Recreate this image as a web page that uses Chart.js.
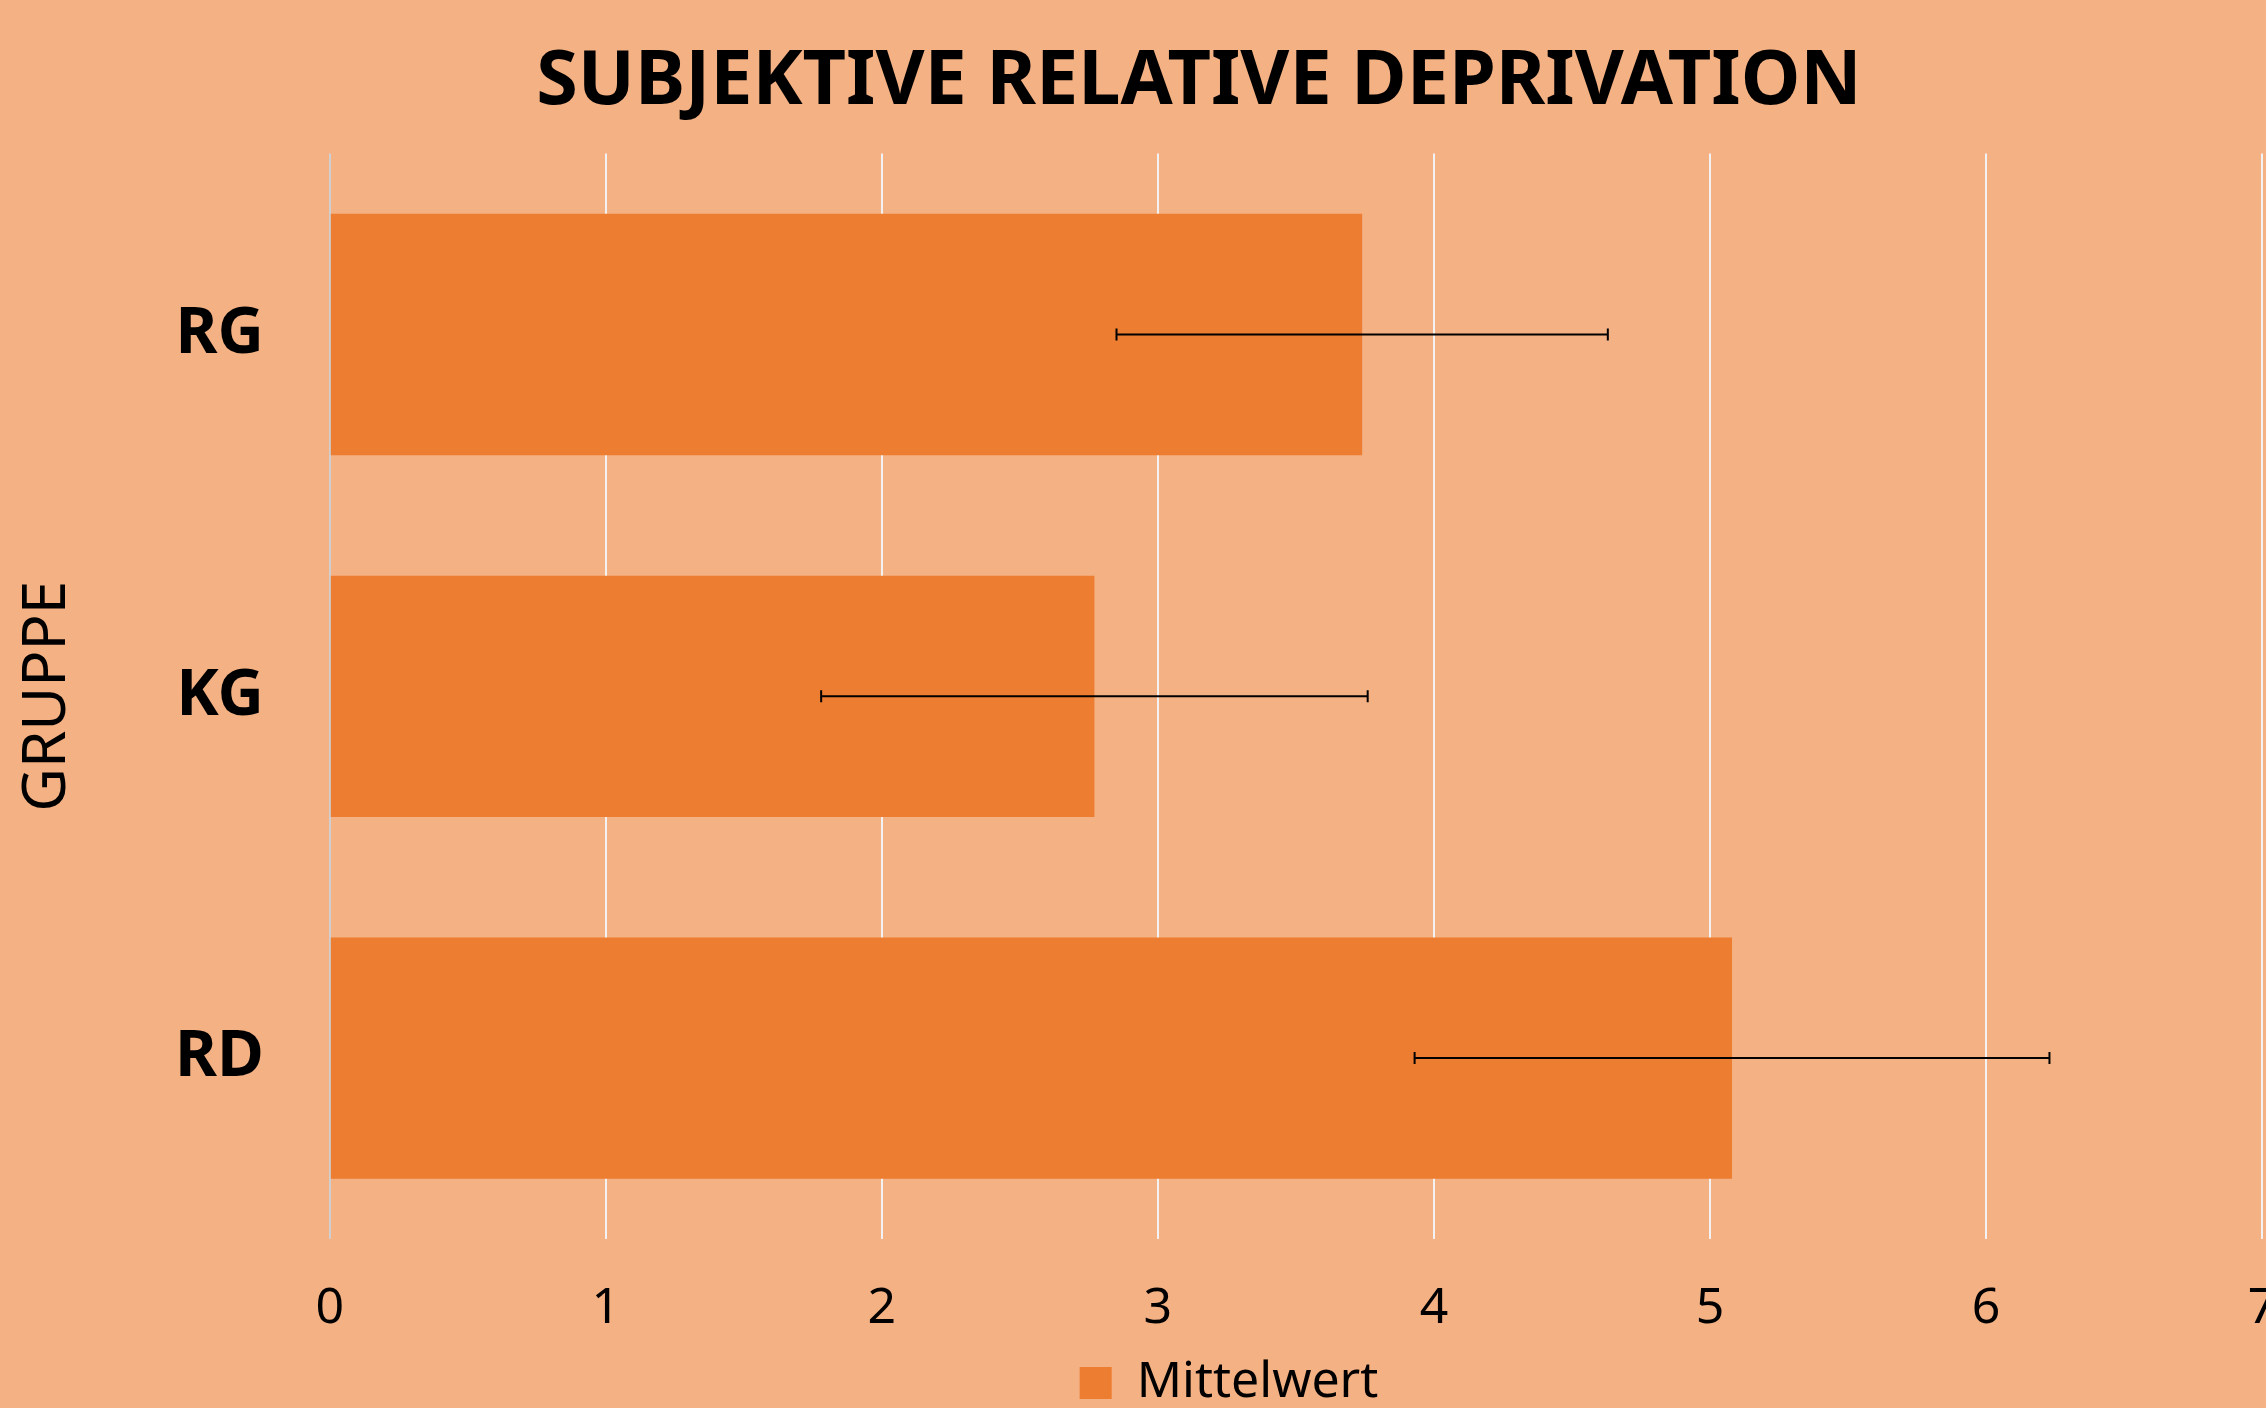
<!DOCTYPE html>
<html><head><meta charset="utf-8">
<script src="https://cdn.jsdelivr.net/npm/chart.js@4"></script>
<style>html,body{margin:0;padding:0;overflow:hidden;background:#F4B183;width:2266px;height:1408px}canvas{display:block}</style>
</head><body>
<canvas id="c" width="2400" height="1418"></canvas>
<script>
const categories = ['RG', 'KG', 'RD'];
const meanValues = [3.74, 2.77, 5.08];
const errorValues = [0.89, 0.99, 1.15];
const xTickValues = [0, 1, 2, 3, 4, 5, 6, 7];
const seriesName = 'Mittelwert';
const chartTitle = 'SUBJEKTIVE RELATIVE DEPRIVATION';
const axisTitle = 'GRUPPE';

const bgPlugin = {
  id: 'bg',
  beforeDraw(chart) {
    const c = chart.ctx;
    c.save();
    c.fillStyle = '#F4B183';
    c.fillRect(0, 0, chart.width, chart.height);
    c.restore();
  }
};

const legendShiftPlugin = {
  id: 'legendShift',
  afterLayout(chart) {
    const l = chart.legend;
    if (l) { l.left += 30; l.right += 30; }
  }
};

const errorBarPlugin = {
  id: 'errorBars',
  afterDatasetsDraw(chart) {
    const c = chart.ctx;
    const xs = chart.scales.x, ys = chart.scales.y;
    c.save();
    c.strokeStyle = '#000';
    c.lineWidth = 2;
    meanValues.forEach((m, i) => {
      const y = ys.getPixelForValue(i);
      const x1 = xs.getPixelForValue(m - errorValues[i]);
      const x2 = xs.getPixelForValue(m + errorValues[i]);
      c.beginPath();
      c.moveTo(x1, y); c.lineTo(x2, y);
      c.moveTo(x1, y - 6); c.lineTo(x1, y + 6);
      c.moveTo(x2, y - 6); c.lineTo(x2, y + 6);
      c.stroke();
    });
    c.restore();
  }
};

Chart.defaults.font.family = '"Noto Sans", "Open Sans", sans-serif';
Chart.defaults.color = '#000';

new Chart(document.getElementById('c'), {
  type: 'bar',
  data: {
    labels: categories,
    datasets: [{
      label: seriesName,
      data: meanValues,
      backgroundColor: '#ED7D31',
      borderWidth: 0,
      categoryPercentage: 1,
      barPercentage: 0.667
    }]
  },
  options: {
    indexAxis: 'y',
    responsive: false,
    animation: false,
    devicePixelRatio: 1,
    layout: { padding: { left: 136, right: 138, top: 0, bottom: 0 } },
    plugins: {
      title: {
        display: true,
        text: chartTitle,
        font: { size: 75.5, weight: 'bold' },
        color: '#000',
        padding: { top: 37, bottom: 26 }
      },
      legend: {
        display: true,
        position: 'bottom',
        labels: {
          boxWidth: 32,
          boxHeight: 32,
          font: { size: 50 },
          color: '#000',
          padding: 0
        }
      },
      tooltip: { enabled: false }
    },
    scales: {
      x: {
        min: 0,
        max: 7,
        afterBuildTicks(scale) { scale.ticks = xTickValues.map(v => ({ value: v })); },
        afterFit(scale) { scale.height = 119; },
        ticks: { font: { size: 50, lineHeight: '2px' }, color: '#000', padding: 69 },
        grid: {
          drawTicks: false,
          lineWidth: 2,
          color: (ctx) => ctx.index === 0 ? '#cfcfcf' : '#f2f2f2'
        },
        border: { display: false }
      },
      y: {
        ticks: { font: { size: 64, weight: 'bold' }, color: '#000', padding: 66 },
        grid: { display: false, drawTicks: false },
        border: { display: false },
        title: {
          display: true,
          text: axisTitle,
          font: { size: 60 },
          color: '#000',
          padding: { top: -124, bottom: 25 }
        }
      }
    }
  },
  plugins: [bgPlugin, legendShiftPlugin, errorBarPlugin]
});
</script>
</body></html>
